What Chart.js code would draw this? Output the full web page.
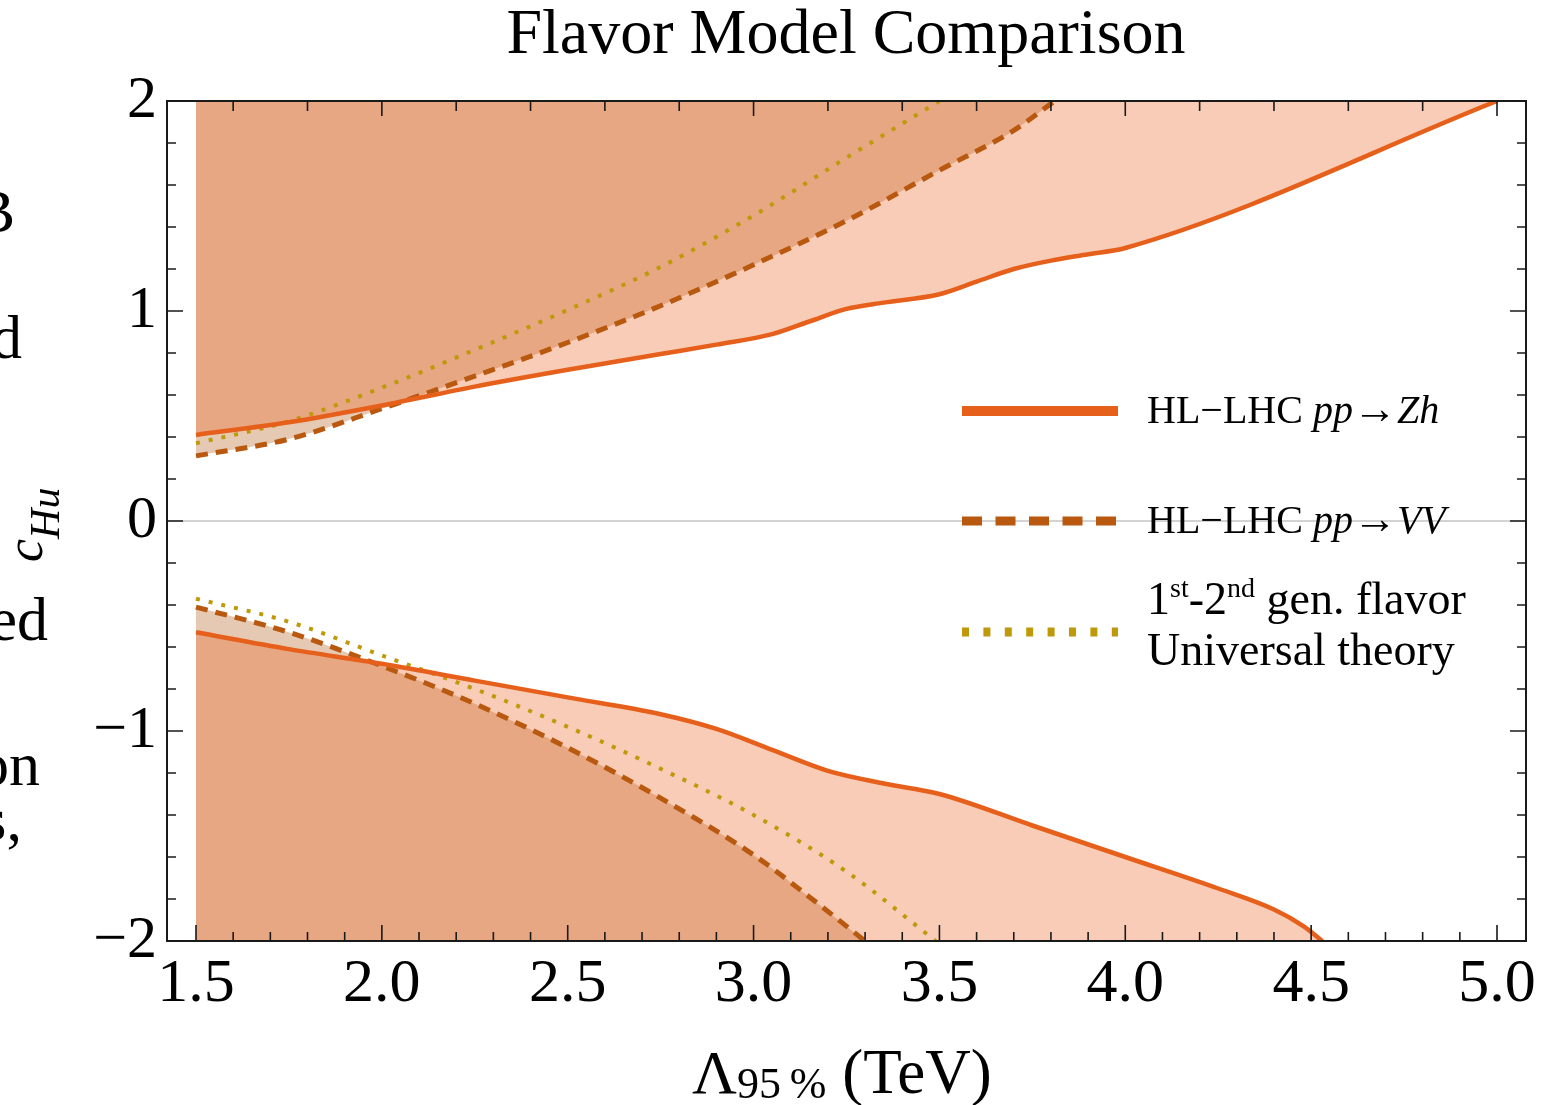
<!DOCTYPE html>
<html>
<head>
<meta charset="utf-8">
<title>Flavor Model Comparison</title>
<script src="https://cdn.jsdelivr.net/npm/chart.js@4.4.1/dist/chart.umd.min.js"></script>
<style>
  html, body { margin: 0; padding: 0; background: #fff; }
  #wrap { width: 1562px; height: 1105px; }
</style>
</head>
<body>
<div id="wrap"><canvas id="flavorChart" width="1562" height="1105"></canvas></div>
<script>
// 95% CL bounds on c_Hu versus the cutoff scale Lambda (TeV)
var zhUpperX = [1.5, 1.75, 2.0, 2.25, 2.5, 2.75, 2.9, 3.05, 3.15, 3.25, 3.35, 3.5, 3.6, 3.7, 3.8, 3.9, 4.0, 5.0];
var zhUpperY = [0.41, 0.47, 0.55, 0.64, 0.72, 0.795, 0.84, 0.89, 0.95, 1.01, 1.04, 1.08, 1.14, 1.20, 1.24, 1.27, 1.30, 2.0];
var zhLowerX = [1.5, 1.75, 2.0, 2.25, 2.5, 2.75, 2.9, 3.05, 3.2, 3.35, 3.5, 3.75, 4.0, 4.25, 4.4, 4.48, 4.53];
var zhLowerY = [-0.53, -0.61, -0.68, -0.76, -0.84, -0.92, -0.99, -1.09, -1.19, -1.25, -1.30, -1.45, -1.60, -1.75, -1.85, -1.93, -2.0];

var vvUpperX = [1.5, 1.75, 2.0, 2.25, 2.5, 2.75, 3.0, 3.25, 3.5, 3.7, 3.81];
var vvUpperY = [0.31, 0.39, 0.535, 0.69, 0.85, 1.025, 1.22, 1.43, 1.67, 1.86, 2.0];
var vvLowerX = [1.5, 1.75, 2.0, 2.25, 2.5, 2.75, 3.0, 3.15, 3.3];
var vvLowerY = [-0.41, -0.53, -0.69, -0.87, -1.08, -1.32, -1.59, -1.79, -2.0];

var flavUpperX = [1.5, 1.75, 2.0, 2.25, 2.5, 2.75, 3.0, 3.25, 3.5];
var flavUpperY = [0.37, 0.475, 0.635, 0.815, 1.005, 1.21, 1.455, 1.73, 2.0];
var flavLowerX = [1.5, 1.75, 2.0, 2.25, 2.5, 2.75, 3.0, 3.25, 3.49];
var flavLowerY = [-0.37, -0.48, -0.64, -0.80, -0.98, -1.18, -1.40, -1.67, -2.0];

var xTicks = [1.5, 2.0, 2.5, 3.0, 3.5, 4.0, 4.5, 5.0];
var yTicks = [-2, -1, 0, 1, 2];

var zhColor = '#e6601c';
var vvColor = '#b8590f';
var flavColor = '#bf990a';
var serif = '"Liberation Serif", "Times New Roman", serif';

function pts(xs, ys) {
    return xs.map(function (x, i) { return { x: x, y: ys[i] }; });
}

function curve(xs, ys, color, width, dash, fill, bg) {
    return {
        data: pts(xs, ys),
        borderColor: color,
        borderWidth: width,
        borderDash: dash,
        fill: fill,
        backgroundColor: bg,
        pointRadius: 0,
        cubicInterpolationMode: 'monotone'
    };
}

// text runs: [text, size, italic, baseline shift]
function drawRuns(ctx, x, y, runs) {
    runs.forEach(function (r) {
        ctx.font = (r[2] ? 'italic ' : '') + r[1] + 'px ' + serif;
        ctx.fillText(r[0], x, y + (r[3] || 0));
        x += ctx.measureText(r[0]).width;
    });
    return x;
}

var framePlugin = {
    id: 'frame',
    beforeDatasetsDraw: function (chart) {
        var ctx = chart.ctx, a = chart.chartArea, y0 = chart.scales.y.getPixelForValue(0);
        ctx.save();
        ctx.strokeStyle = '#c4c4c4';
        ctx.lineWidth = 1.5;
        ctx.beginPath();
        ctx.moveTo(a.left, y0);
        ctx.lineTo(a.right, y0);
        ctx.stroke();
        ctx.restore();
    },
    afterDraw: function (chart) {
        var ctx = chart.ctx, a = chart.chartArea;
        var xs = chart.scales.x, ys = chart.scales.y;
        var i, v, p, len;
        ctx.save();
        ctx.strokeStyle = '#1a1a1a';
        ctx.lineWidth = 2;
        ctx.strokeRect(a.left, a.top, a.right - a.left, a.bottom - a.top);

        ctx.lineWidth = 1.6;
        ctx.beginPath();
        // bottom: every 0.1, long at each 0.5
        for (i = 15; i <= 50; i++) {
            v = i / 10;
            p = xs.getPixelForValue(v);
            len = (i % 5 === 0) ? 16 : 9;
            ctx.moveTo(p, a.bottom);
            ctx.lineTo(p, a.bottom - len);
        }
        // top: every 0.2, long at whole numbers
        for (i = 8; i <= 25; i++) {
            v = i / 5;
            p = xs.getPixelForValue(v);
            len = (i % 5 === 0) ? 15 : 10;
            ctx.moveTo(p, a.top);
            ctx.lineTo(p, a.top + len);
        }
        // left and right: every 0.2, long at whole numbers
        for (i = -10; i <= 10; i++) {
            v = i / 5;
            p = ys.getPixelForValue(v);
            len = (i % 5 === 0) ? 16 : 9;
            ctx.moveTo(a.left, p);
            ctx.lineTo(a.left + len, p);
            ctx.moveTo(a.right, p);
            ctx.lineTo(a.right - len, p);
        }
        ctx.stroke();

        // titles
        ctx.fillStyle = '#000';
        ctx.textBaseline = 'alphabetic';
        ctx.textAlign = 'center';
        ctx.font = '64px ' + serif;
        ctx.fillText('Flavor Model Comparison', 846, 53);

        ctx.textAlign = 'left';
        drawRuns(ctx, 692, 1093, [['\u039b', 62], ['95\u2009%', 44, false, 5], [' (TeV)', 63]]);

        ctx.save();
        ctx.translate(42, 562);
        ctx.rotate(-Math.PI / 2);
        drawRuns(ctx, 0, 0, [['c', 52, true], ['Hu', 42, true, 17]]);
        ctx.restore();

        // legend
        var lx0 = 962, lx1 = 1118, tx = 1147;
        ctx.lineCap = 'butt';
        ctx.strokeStyle = zhColor;
        ctx.lineWidth = 10;
        ctx.setLineDash([]);
        ctx.beginPath(); ctx.moveTo(lx0, 411); ctx.lineTo(lx1, 411); ctx.stroke();
        ctx.strokeStyle = vvColor;
        ctx.lineWidth = 9;
        ctx.setLineDash([20, 13.5]);
        ctx.beginPath(); ctx.moveTo(lx0, 521); ctx.lineTo(lx1, 521); ctx.stroke();
        ctx.strokeStyle = flavColor;
        ctx.setLineDash([7, 14.4]);
        ctx.beginPath(); ctx.moveTo(lx0, 632); ctx.lineTo(lx1, 632); ctx.stroke();
        ctx.setLineDash([]);

        ctx.fillStyle = '#000';
        drawRuns(ctx, tx, 423, [['HL\u2212LHC ', 40], ['pp', 40, true], ['\u2192', 44], ['Zh', 40, true]]);
        drawRuns(ctx, tx, 533, [['HL\u2212LHC ', 40], ['pp', 40, true], ['\u2192', 44], ['VV', 40, true]]);
        drawRuns(ctx, tx, 614, [['1', 46], ['st', 28, false, -17], ['-2', 46], ['nd', 28, false, -17], [' gen. flavor', 46]]);
        drawRuns(ctx, tx, 665, [['Universal theory', 46]]);

        // neighbouring text column, cut at the page edge
        ctx.textAlign = 'right';
        ctx.font = '62px ' + serif;
        ctx.fillText('B', 15, 232);
        ctx.fillText('d', 22, 358);
        ctx.fillText('ed', 48, 640);
        ctx.fillText('on', 40, 785);
        ctx.fillText('s,', 22, 840);
        ctx.restore();
    }
};

var ctx = document.getElementById('flavorChart');
var chart = new Chart(ctx, {
    type: 'line',
    data: {
        datasets: [
            curve(zhUpperX, zhUpperY, zhColor, 4.5, [], 'end', 'rgba(232,96,28,0.32)'),
            curve(zhLowerX, zhLowerY, zhColor, 4.5, [], 'start', 'rgba(232,96,28,0.32)'),
            curve(vvUpperX, vvUpperY, vvColor, 5, [12, 8], 'end', 'rgba(170,76,0,0.3)'),
            curve(vvLowerX, vvLowerY, vvColor, 5, [12, 8], 'start', 'rgba(170,76,0,0.3)'),
            curve(flavUpperX, flavUpperY, flavColor, 4, [4, 9], false, 'transparent'),
            curve(flavLowerX, flavLowerY, flavColor, 4, [4, 9], false, 'transparent')
        ]
    },
    options: {
        responsive: false,
        animation: false,
        events: [],
        layout: { padding: { top: 101, right: 36, left: 0, bottom: 0 } },
        plugins: {
            legend: { display: false },
            tooltip: { enabled: false },
            title: { display: false },
            filler: { drawTime: 'beforeDatasetsDraw' }
        },
        scales: {
            x: {
                type: 'linear',
                min: 1.422,
                max: 5.078,
                afterBuildTicks: function (s) { s.ticks = xTicks.map(function (v) { return { value: v }; }); },
                afterFit: function (s) { s.height = 164; },
                grid: { display: false, drawTicks: false },
                border: { display: false },
                ticks: {
                    autoSkip: false,
                    maxRotation: 0,
                    padding: 7,
                    color: '#000',
                    font: { family: serif, size: 62 },
                    callback: function (v) { return v.toFixed(1); }
                }
            },
            y: {
                type: 'linear',
                min: -2,
                max: 2,
                afterBuildTicks: function (s) { s.ticks = yTicks.map(function (v) { return { value: v }; }); },
                afterFit: function (s) { s.width = 167; },
                grid: { display: false, drawTicks: false },
                border: { display: false },
                ticks: {
                    padding: 10,
                    color: '#000',
                    font: { family: serif, size: 60 },
                    callback: function (v) { return v < 0 ? '\u2212' + Math.abs(v) : String(v); }
                }
            }
        }
    },
    plugins: [framePlugin]
});
</script>
</body>
</html>
